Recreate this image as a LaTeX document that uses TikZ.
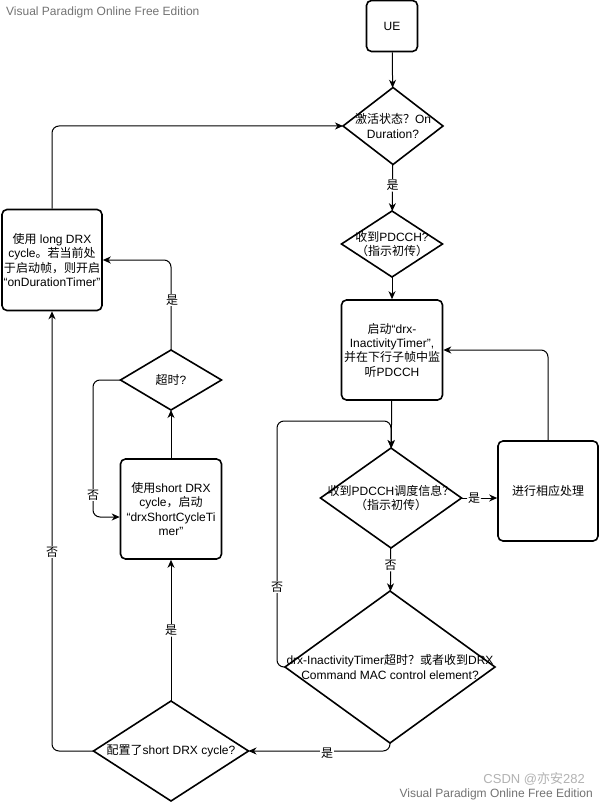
\documentclass[tikz,border=0pt]{standalone}
\usepackage{fontspec}
\setmainfont{Liberation Sans}
\newfontfamily\cjk{Noto Sans CJK SC}
\usetikzlibrary{shapes.geometric,arrows.meta,calc}
\newcommand{\zh}[1]{{\cjk #1}}
\tikzset{
  txt/.style={font=\fontsize{12}{14.3}\selectfont, align=center, inner sep=0pt},
  box/.style={draw, line width=1.6pt, rounded corners=5pt, minimum width=100pt, minimum height=100pt, txt},
  dia/.style={draw, diamond, line width=1.6pt, inner sep=0pt, outer sep=0pt},
  conn/.style={line width=1pt, -{Stealth[length=8pt,width=7pt,inset=2.5pt]}, rounded corners=7pt},
  elabel/.style={fill=white, inner sep=1pt, font=\fontsize{12}{14}\cjk},
  wm/.style={font=\fontsize{12}{14}\selectfont, text=black!55, inner sep=0pt}
}
\begin{document}
\begin{tikzpicture}[x=1pt,y=-1pt]
\useasboundingbox (0,0) rectangle (599,802);
\fill[white] (0,0) rectangle (599,802);

% watermarks
\node[wm, anchor=west] (wm1) at (6,12) {Visual Paradigm Online Free Edition};

% main column
\node[box, minimum width=51pt, minimum height=51pt] (ue) at (392,26) {UE};
\node[dia, minimum width=100pt, minimum height=77pt] (d1) at (393,126) {};
\node[txt] (d1t) at (d1) {\zh{激活状态？}On\\Duration?};
\node[dia, minimum width=101pt, minimum height=66pt] (d2) at (392,244) {};
\node[txt] (d2t) at (d2) {\zh{收到}PDCCH?\\\zh{（指示初传）}};
\node[box, minimum width=101pt] (b3) at (392,350) {\zh{启动}“drx-\\InactivityTimer”,\\\zh{并在下行子帧中监}\\\zh{听}PDCCH};
\node[dia, minimum width=141pt, minimum height=100pt] (d4) at (391,498) {};
\node[txt] (d4t) at (d4) {\zh{收到}PDCCH\zh{调度信息？}\\\zh{（指示初传）}};
\node[box] (b5) at (548,491) {\zh{进行相应处理}};
\node[dia, minimum width=210pt, minimum height=152pt] (d6) at (390,667) {};
\node[txt] (d6t) at (d6) {drx-InactivityTimer\zh{超时？或者收到}DRX\\Command MAC control element?};

% left part
\node[dia, minimum width=155pt, minimum height=100pt] (d7) at (171,751) {};
\node[txt] (d7t) at (d7) {\zh{配置了}short DRX cycle?};
\node[box, minimum width=101pt] (b6) at (171,509) {\zh{使用}short DRX\\cycle\zh{，启动}\\“drxShortCycleTi\\mer”};
\node[dia, minimum width=101pt, minimum height=60pt] (d8) at (171,380) {};
\node[txt] (d8t) at (d8) {\zh{超时}?};
\node[box, minimum height=101pt] (b7) at (52,260) {\zh{使用} long DRX\\cycle\zh{。若当前处}\\\zh{于启动帧，则开启}\\“onDurationTimer”};

% connectors
\draw[conn] (ue) -- (d1);
\draw[conn] (d1) -- node[elabel, pos=0.45] (l1) {是} (d2);
\draw[conn] (d2) -- (b3);
\draw[conn] (b3) -- (d4);
\draw[conn] (b5.north) |- (b3.east);
\draw[conn] (d4.east) -- node[elabel, pos=0.35] (l2) {是} (d4.east -| b5.west);
\draw[conn] (d4) -- node[elabel, pos=0.4] (l3) {否} (d6);
\coordinate (c1) at (277,421);
\draw[conn] (d6.west) -| (c1) -| (d4.north);
\node[elabel] (l4) at (277,587) {否};
\draw[conn] (d6.south) |- (d7.east);
\node[elabel] (l5) at (327,753) {是};
\draw[conn] (d7) -- node[elabel, pos=0.5] (l6) {是} (b6);
\draw[conn] (d7.west) -| (b7.south);
\node[elabel] (l7) at (52,552) {否};
\draw[conn] (b6) -- (d8);
\coordinate (c2) at (93,517);
\draw[conn] (d8.west) -| (c2) -- ([yshift=-8pt]b6.west);
\node[elabel] (l8) at (93,495) {否};
\draw[conn] (d8.north) |- (b7.east);
\node[elabel] (l9) at (172,300) {是};
\draw[conn] (b7.north) |- (d1.west);

% bottom watermarks
\node[wm, anchor=east] (wm2) at (593,794) {Visual Paradigm Online Free Edition};
\node[anchor=east, inner sep=0pt, text=black!30, font=\fontsize{13}{15}\selectfont] (wm3) at (585,779) {CSDN @\zh{亦安}282};
\end{tikzpicture}
\end{document}
